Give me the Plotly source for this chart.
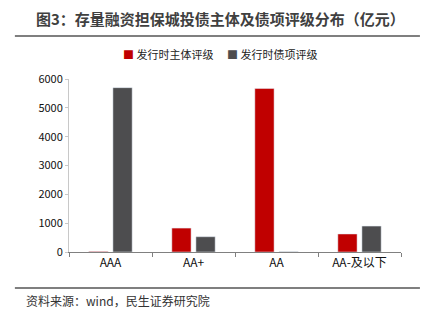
import plotly.graph_objects as go

# 评级分布数据（亿元）
categories = ["AAA", "AA+", "AA", "AA-及以下"]
issuer_rating = [20, 830, 5670, 625]      # 发行时主体评级
bond_rating = [5700, 530, 10, 900]        # 发行时债项评级

red = "#C00000"
gray = "#4D4D4F"
font_family = "Noto Sans CJK SC, Open Sans, sans-serif"

fig = go.Figure()
fig.add_trace(go.Bar(x=categories, y=issuer_rating, name="发行时主体评级",
                     marker=dict(color=red)))
fig.add_trace(go.Bar(x=categories, y=bond_rating, name="发行时债项评级",
                     marker=dict(color=gray)))

fig.update_layout(
    width=428, height=322,
    margin=dict(l=69, r=27, t=79, b=70),
    paper_bgcolor="white", plot_bgcolor="white",
    barmode="group", bargap=0.42, bargroupgap=0.2,
    showlegend=False,
    font=dict(family=font_family, color="#222222"),
)

fig.update_xaxes(
    type="category", showgrid=False, showline=True, linecolor="#808080", linewidth=1,
    ticks="outside", tickson="boundaries", ticklen=4, tickcolor="#808080",
    tickfont=dict(size=12, color="#111111"),
)
fig.update_yaxes(
    range=[0, 6000], dtick=1000, showgrid=False, zeroline=False,
    showline=True, linecolor="#C8C8C8", linewidth=1,
    ticks="outside", ticklen=3, tickcolor="#C8C8C8",
    tickfont=dict(size=11, color="#111111"),
)

# 标题与分隔线
fig.add_annotation(
    text="<b>图3：存量融资担保城投债主体及债项评级分布（亿元）</b>",
    xref="paper", yref="paper", x=0.455, y=1.3526, showarrow=False,
    font=dict(size=15, color="#404040"), xanchor="center", yanchor="middle",
)
fig.add_shape(type="line", xref="paper", yref="paper",
              x0=-0.163, x1=1.057, y0=1.2486, y1=1.2486,
              line=dict(color="#555555", width=1.5))

# 图例
fig.add_annotation(
    text=(f"<span style='color:{red}'>■</span> 发行时主体评级"
          f"　 <span style='color:{gray}'>■</span> 发行时债项评级"),
    xref="paper", yref="paper", x=0.455, y=1.1445, showarrow=False,
    font=dict(size=11, color="#222222"), xanchor="center", yanchor="middle",
)

# 底部分隔线与资料来源
fig.add_shape(type="line", xref="paper", yref="paper",
              x0=-0.163, x1=1.057, y0=-0.208, y1=-0.208,
              line=dict(color="#555555", width=1.5))
fig.add_annotation(
    text="资料来源：wind，民生证券研究院",
    xref="paper", yref="paper", x=-0.1355, y=-0.2775, showarrow=False,
    font=dict(size=12, color="#333333"), xanchor="left", yanchor="middle",
)

fig.write_html("out.html")
